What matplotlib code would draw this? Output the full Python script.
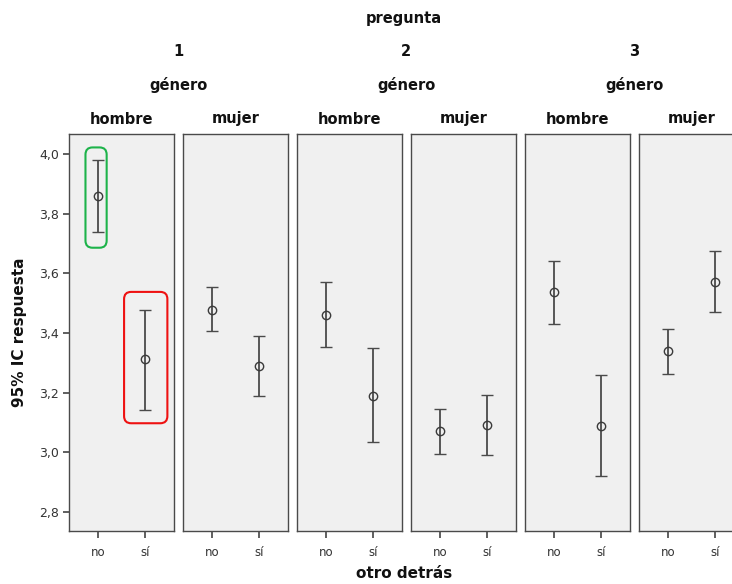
import matplotlib.pyplot as plt
from matplotlib.patches import FancyBboxPatch
from matplotlib.ticker import FuncFormatter

preguntas = ['1', '2', '3']
generos = ['hombre', 'mujer']
otro = ['no', 'sí']

# one row per panel (pregunta x género), columns = otro detrás (no, sí)
means = [[3.860, 3.314], [3.478, 3.290],
         [3.461, 3.190], [3.072, 3.093],
         [3.537, 3.090], [3.340, 3.572]]
lower = [[3.740, 3.142], [3.408, 3.190],
         [3.354, 3.035], [2.995, 2.992],
         [3.431, 2.920], [3.264, 3.470]]
upper = [[3.980, 3.478], [3.555, 3.390],
         [3.570, 3.350], [3.146, 3.193],
         [3.641, 3.259], [3.415, 3.674]]
yticks = [2.8, 3.0, 3.2, 3.4, 3.6, 3.8, 4.0]

# highlighted intervals: (panel, category, colour)
highlights = [(0, 0, '#1db34a'), (0, 1, '#ee1111')]
# box shape around each highlight: half widths left/right, padding below/above
box_shape = [(0.26, 0.19, 0.054, 0.042), (0.44, 0.48, 0.044, 0.06)]

W, H = 732, 584
fig = plt.figure(figsize=(W / 100, H / 100), dpi=100)

left0, pw, gap = 69, 104.5, 9.5
top, bottom = 134, 531
dark = '#333333'

axes = []
for i in range(6):
    x0 = left0 + i * (pw + gap)
    ax = fig.add_axes([x0 / W, 1 - bottom / H, pw / W, (bottom - top) / H])
    ax.set_facecolor('#f0f0f0')
    for s in ax.spines.values():
        s.set_color('#4a4a4a')
        s.set_linewidth(1.0)
    xs = range(len(otro))
    yerr = [[m - l for m, l in zip(means[i], lower[i])],
            [u - m for m, u in zip(means[i], upper[i])]]
    ax.errorbar(xs, means[i], yerr=yerr, fmt='o', mfc='none', mec='#3a3a3a',
                ms=6, mew=1.0, ecolor='#4a4a4a', elinewidth=1.3, capsize=4.6,
                capthick=1.2)
    ax.set_xlim(-0.61, 1.61)
    ax.set_ylim(2.737, 4.067)
    ax.set_xticks(list(xs))
    ax.set_xticklabels(otro, fontsize=8.5, color=dark)
    ax.tick_params(axis='x', length=5, width=1.2, color='#444444', pad=6)
    ax.set_yticks(yticks)
    if i == 0:
        ax.yaxis.set_major_formatter(FuncFormatter(lambda v, p: f'{v:.1f}'.replace('.', ',')))
        ax.tick_params(axis='y', length=4, width=1.2, color='#444444', labelsize=9,
                       labelcolor=dark, pad=3)
    else:
        ax.tick_params(axis='y', left=False, labelleft=False)
    axes.append(ax)
    # género labels
    fig.text((x0 + pw / 2) / W, 1 - 119 / H, generos[i % 2], ha='center', va='center',
             fontsize=10.5, fontweight='bold', color='#111111')

for k, p in enumerate(preguntas):
    xc = left0 + 2 * k * (pw + gap) + (2 * pw + gap) / 2
    fig.text(xc / W, 1 - 52 / H, p, ha='center', va='center', fontsize=10.5,
             fontweight='bold', color='#111111')
    fig.text(xc / W, 1 - 85 / H, 'género', ha='center', va='center', fontsize=10.5,
             fontweight='bold', color='#111111')

fig.text(404 / W, 1 - 18 / H, 'pregunta', ha='center', va='center', fontsize=10.5,
         fontweight='bold', color='#111111')
fig.text(404 / W, 1 - 573 / H, 'otro detrás', ha='center', va='center', fontsize=11,
         fontweight='bold', color='#111111')
fig.text(20 / W, 1 - 332 / H, '95% IC respuesta', ha='center', va='center', rotation=90,
         fontsize=11, fontweight='bold', color='#111111')

# rounded boxes around highlighted intervals
for (pi, ci, col), (wl, wr, pl, ph) in zip(highlights, box_shape):
    ax = axes[pi]
    lo, hi = lower[pi][ci], upper[pi][ci]
    bx = FancyBboxPatch((ci - wl, lo - pl), wl + wr, hi - lo + pl + ph,
                        boxstyle='round,pad=0,rounding_size=0.15',
                        mutation_aspect=0.16, fc='none', ec=col, lw=1.5,
                        transform=ax.transData, zorder=5, clip_on=False)
    ax.add_patch(bx)

fig.savefig('out.png', dpi=100, facecolor='white')
